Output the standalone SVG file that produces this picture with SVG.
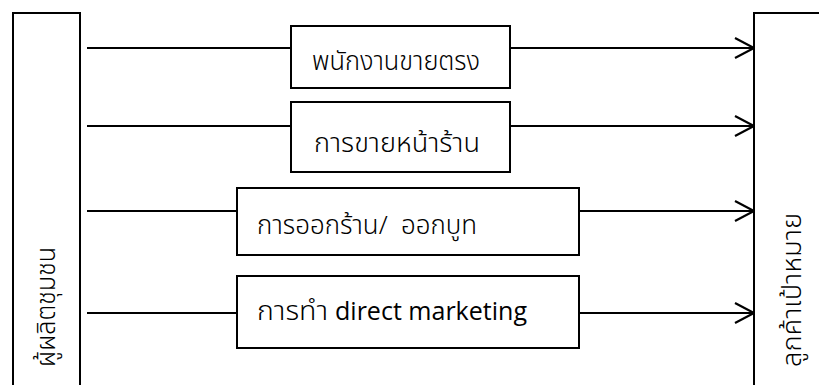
<svg xmlns="http://www.w3.org/2000/svg" width="819" height="385" viewBox="0 0 819 385">
  <style>
    .box { fill: #ffffff; stroke: #000000; stroke-width: 2; }
    .link { fill: none; stroke: #000000; stroke-width: 2.2; }
    .th { font-family: "Noto Sans Thai", "Noto Sans", "DejaVu Sans", sans-serif; font-size: 26px; font-weight: 300; fill: #000000; }
    .en { font-family: "Open Sans", Lato, "Liberation Sans", sans-serif; font-size: 25px; fill: #000000; }
  </style>
  <defs>
    <marker id="arrow" markerUnits="userSpaceOnUse" markerWidth="24" markerHeight="26" viewBox="-21 -12 24 24" refX="0" refY="0" orient="auto">
      <path d="M-19,-10 L0,0 L-19,10" fill="none" stroke="#000000" stroke-width="2.2"/>
    </marker>
  </defs>
  <rect width="819" height="385" fill="#ffffff"/>

  <!-- connectors: producer to channel, channel to target customers -->
  <g id="connectors">
    <line class="link" x1="87" y1="48" x2="291" y2="48"/>
    <line class="link" x1="510" y1="48" x2="754" y2="48" marker-end="url(#arrow)"/>
    <line class="link" x1="87" y1="126" x2="291" y2="126"/>
    <line class="link" x1="510" y1="126" x2="754" y2="126" marker-end="url(#arrow)"/>
    <line class="link" x1="87" y1="211" x2="237" y2="211"/>
    <line class="link" x1="579" y1="211" x2="754" y2="211" marker-end="url(#arrow)"/>
    <line class="link" x1="87" y1="313" x2="237" y2="313"/>
    <line class="link" x1="579" y1="313" x2="754" y2="313" marker-end="url(#arrow)"/>
  </g>

  <!-- community producer -->
  <g id="producer">
    <rect class="box" x="13" y="13" width="67" height="380"/>
    <text class="th" transform="translate(55,367) rotate(-90)" textLength="120" lengthAdjust="spacingAndGlyphs">ผู้ผลิตชุมชน</text>
  </g>

  <!-- target customers -->
  <g id="customers">
    <rect class="box" x="754" y="13" width="80" height="380"/>
    <text class="th" transform="translate(801,367) rotate(-90)" textLength="154" lengthAdjust="spacingAndGlyphs">ลูกค้าเป้าหมาย</text>
  </g>

  <g id="direct-sales">
    <rect class="box" x="291" y="26" width="219" height="62"/>
    <text class="th" x="312" y="69.5" textLength="168" lengthAdjust="spacingAndGlyphs">พนักงานขายตรง</text>
  </g>

  <g id="storefront">
    <rect class="box" x="291" y="102" width="219" height="70"/>
    <text class="th" x="314" y="152" textLength="166" lengthAdjust="spacingAndGlyphs">การขายหน้าร้าน</text>
  </g>

  <g id="booth">
    <rect class="box" x="237" y="188" width="342" height="67"/>
    <text class="th" x="257" y="234" textLength="220" lengthAdjust="spacingAndGlyphs" xml:space="preserve" style="white-space: pre">การออกร้าน/  ออกบูท</text>
  </g>

  <g id="direct-marketing">
    <rect class="box" x="237" y="276" width="342" height="72"/>
    <text class="th" x="257" y="320" textLength="71" lengthAdjust="spacingAndGlyphs">การทำ</text>
    <text class="en" x="335" y="320" textLength="192" lengthAdjust="spacingAndGlyphs">direct marketing</text>
  </g>
</svg>
